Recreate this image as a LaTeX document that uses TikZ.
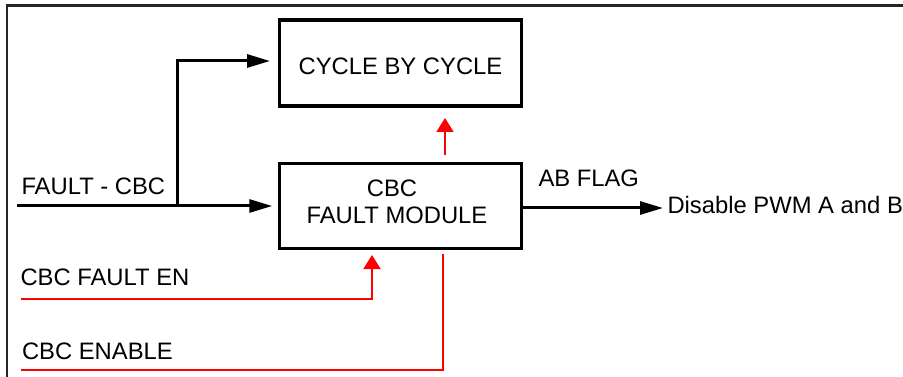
\documentclass[tikz,border=0pt]{standalone}
\usepackage{fontspec}
\setmainfont{Liberation Sans}
\usetikzlibrary{arrows.meta}
\begin{document}
\begin{tikzpicture}[x=1pt,y=-1pt,
  every node/.style={font=\fontsize{23.8}{26.6}\selectfont, inner sep=0pt, outer sep=0pt},
  blockbox/.style={draw=black, line width=3.2pt, minimum width=241.5pt, align=center},
  sig/.style={line width=3pt, -{Triangle[length=23pt,width=13pt]}},
  redsig/.style={draw=red, line width=1.8pt},
  redarrow/.style={redsig, -{Triangle[length=14pt,width=17pt]}},
  lbl/.style={anchor=base west}
]
\useasboundingbox (0,0) rectangle (903,377);
\draw[line width=2.2pt, black!85] (7,377) -- (7,5.5) -- (903,5.5);

% blocks
\node[blockbox, minimum height=86pt, text height=24pt, text depth=0pt] (cyc) at (400.5,63) {CYCLE BY CYCLE};
\node[blockbox, minimum height=85pt, text height=34.6pt, text depth=0pt] (cbc) at (400.5,206) {CBC\hspace*{17pt}\\FAULT MODULE\hspace*{7pt}};

% labels
\node[lbl] (tfault) at (21.5,195) {FAULT - CBC};
\node[lbl] (ten) at (20.5,285) {CBC FAULT EN};
\node[lbl] (tenable) at (22,359) {CBC ENABLE};
\node[lbl] (tab) at (538.5,187) {AB FLAG};
\node[lbl] (tdis) at (667.5,214) {Disable PWM A and B};

% coordinates
\coordinate (fin) at (17,206);
\coordinate (split) at (177,206);
\coordinate (abend) at (663,208);
\coordinate (rx) at (445,0);
\coordinate (enst) at (21,299);
\coordinate (enx) at (372,0);
\coordinate (ebst) at (21,370);
\coordinate (ebx) at (443,0);

% black connectors
\draw[sig, shorten >=7.5pt] (fin) -- (cbc.west);
\draw[sig, shorten >=9.75pt] (split) |- ([yshift=2pt]cyc.west);
\draw[sig] (cbc.east |- abend) -- (abend);

% red connectors
\draw[redarrow, shorten <=8pt, shorten >=12pt] (rx |- cbc.north) -- (rx |- cyc.south);
\draw[redarrow, shorten >=6.5pt] (enst) -| (enx |- cbc.south);
\draw[redsig, shorten >=5pt] (ebst) -| (ebx |- cbc.south);
\end{tikzpicture}
\end{document}
